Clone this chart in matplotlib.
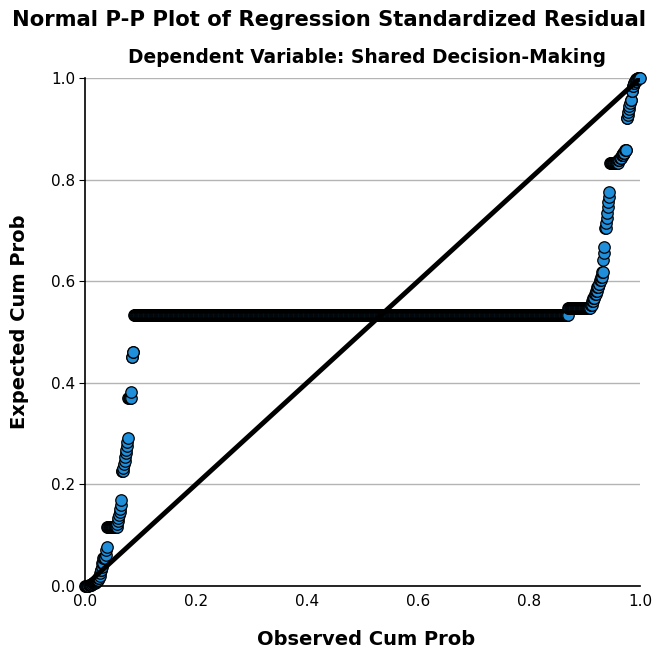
import numpy as np
import matplotlib
matplotlib.use("Agg")
import matplotlib.pyplot as plt

# expected cum prob for each distinct residual value, and how many cases share it
expected = [0.000, 0.001, 0.002, 0.003, 0.004, 0.005, 0.006, 0.008, 0.010, 0.012,
            0.015, 0.020, 0.026, 0.032, 0.038, 0.045, 0.055, 0.062, 0.070, 0.077,
            0.116, 0.122, 0.128, 0.134, 0.140, 0.146, 0.152, 0.160, 0.169,
            0.226, 0.233, 0.240, 0.247, 0.254, 0.261, 0.268, 0.275, 0.283, 0.291,
            0.370, 0.382, 0.451, 0.461,
            0.533,
            0.547, 0.553, 0.560, 0.567, 0.574, 0.581, 0.588, 0.595, 0.602, 0.609, 0.618,
            0.642, 0.655, 0.667,
            0.705, 0.715, 0.725, 0.735, 0.745, 0.755, 0.765, 0.776,
            0.833, 0.838, 0.843, 0.848, 0.853, 0.858,
            0.921, 0.927, 0.933, 0.939, 0.945, 0.951, 0.957, 0.974,
            0.985, 0.990, 0.994, 0.997, 0.999]
counts = [4, 3, 3, 2, 2, 2, 2, 2, 2, 2,
          2, 1, 1, 2, 1, 2, 4, 1, 1, 1,
          18, 1, 1, 1, 1, 1, 1, 1, 1,
          3, 1, 1, 1, 1, 1, 1, 1, 1, 1,
          5, 1, 2, 2,
          782,
          40, 3, 2, 3, 2, 2, 3, 2, 2, 2, 2,
          1, 1, 1,
          2, 1, 1, 1, 1, 1, 1, 1,
          15, 3, 3, 3, 3, 3,
          2, 1, 1, 1, 1, 1, 2, 2,
          2, 2, 2, 3, 5]
ticks = ['0.0', '0.2', '0.4', '0.6', '0.8', '1.0']

y = np.repeat(expected, counts)
n = len(y)
x = (np.arange(1, n + 1) - 0.5) / n

fig = plt.figure(figsize=(6.58, 6.51), dpi=100)
ax = fig.add_axes([0.129, 0.0998, 0.844, 0.7805])

ax.scatter(x, y, s=68, c='#1f8fdb', edgecolors='black', linewidths=0.9, zorder=3, clip_on=False)
ax.plot([0, 1], [0, 1], color='black', lw=3.5, zorder=4, solid_capstyle='butt')

ax.set_xlim(0, 1)
ax.set_ylim(0, 1)
ax.set_xticks(np.arange(0, 1.01, 0.2))
ax.set_yticks(np.arange(0, 1.01, 0.2))
ax.set_xticklabels(ticks)
ax.set_yticklabels(ticks)
ax.tick_params(axis='x', length=0, labelsize=11, pad=6)
ax.tick_params(axis='y', length=4, width=0.8, labelsize=11, pad=3)
ax.yaxis.grid(True, color='#b4b4b4', lw=1)
ax.set_axisbelow(True)
for side in ['top', 'right']:
    ax.spines[side].set_visible(False)
for side in ['left', 'bottom']:
    ax.spines[side].set_linewidth(1.2)

fig.text(0.556, 0.017, 'Observed Cum Prob', ha='center', va='center',
         fontsize=14, fontweight='bold')
fig.text(0.030, 0.505, 'Expected Cum Prob', ha='center', va='center',
         rotation=90, fontsize=14, fontweight='bold')

fig.text(0.5, 0.969, 'Normal P-P Plot of Regression Standardized Residual',
         ha='center', va='center', fontsize=15.2, fontweight='bold')
fig.text(0.558, 0.911, 'Dependent Variable: Shared Decision-Making',
         ha='center', va='center', fontsize=13.4, fontweight='bold')

fig.savefig('out.png', dpi=100)
